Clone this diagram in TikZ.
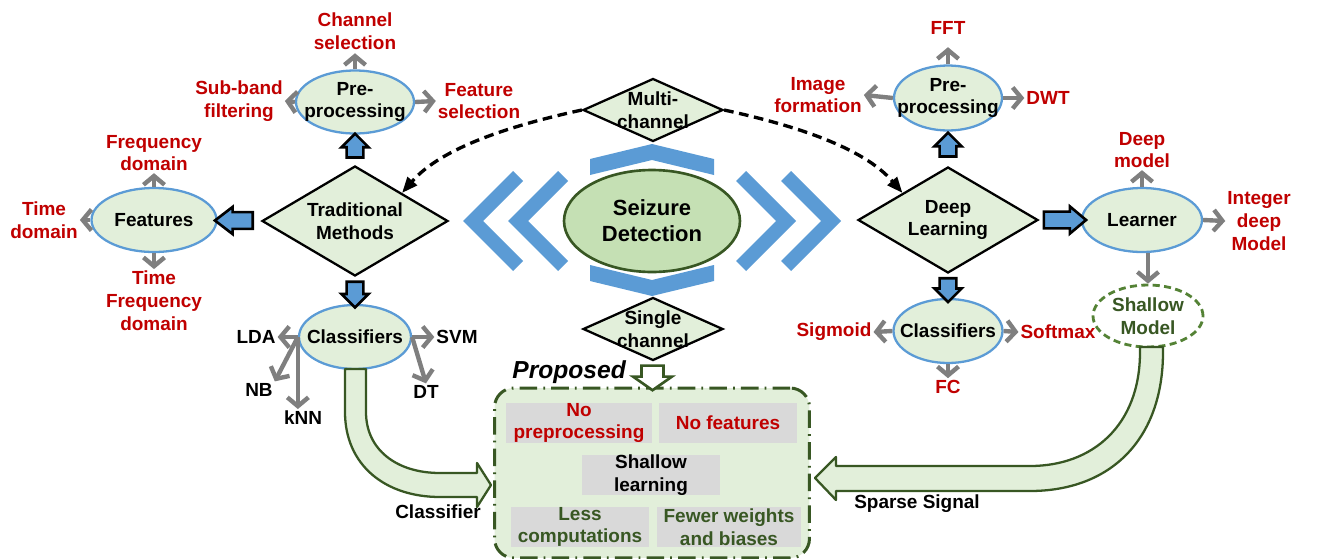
\documentclass[tikz,border=0pt]{standalone}
\usepackage{fontspec}
\setmainfont{Liberation Sans}
\usetikzlibrary{shapes.geometric,shapes.arrows,arrows.meta,calc}

\definecolor{blueshade}{HTML}{5B9BD5}
\definecolor{palegreen}{HTML}{E2EFDA}
\definecolor{midgreen}{HTML}{C5E0B4}
\definecolor{darkgreen}{HTML}{385723}
\definecolor{dashgreen}{HTML}{548235}
\definecolor{darkred}{HTML}{C00000}
\definecolor{arrowgray}{HTML}{7F7F7F}
\definecolor{boxgray}{HTML}{D9D9D9}

\tikzset{
  txt/.style={font=\bfseries\fontsize{10.8}{13}\selectfont, align=center, inner sep=1pt},
  redtxt/.style={txt, text=darkred},
  oval/.style={ellipse, draw=blueshade, line width=1.3pt, fill=palegreen, inner sep=0pt, label={[txt]center:#1}},
  decision/.style={diamond, draw=black, line width=1.3pt, fill=palegreen, inner sep=0pt, label={[txt]center:#1}},
  grayarrow/.style={draw=arrowgray, line width=2.5pt, -{Straight Barb[length=5pt,width=12pt]}},
  blockarrow/.style={single arrow, draw=black, fill=blueshade, line width=1.5pt, inner xsep=0pt, inner ysep=4pt,
    minimum width=14pt, single arrow head extend=3pt},
  hollowarrow/.style={single arrow, draw=darkgreen, fill=white, line width=1.5pt, inner xsep=0pt, inner ysep=5.5pt,
    minimum width=21pt, single arrow head extend=4.8pt, single arrow tip angle=110},
  graybox/.style={rectangle, fill=boxgray, txt, inner sep=0pt, minimum height=0.8cm},
  dashedarrow/.style={draw=black, line width=1.9pt, dash pattern=on 5.5pt off 3.2pt, -{Triangle[length=9pt,width=7pt]}},
  bigarrow/.style={draw=darkgreen, line width=1.3pt, fill=palegreen, line join=round}
}

\begin{document}
\begin{tikzpicture}[x=0.02cm,y=-0.02cm]
\useasboundingbox (0,0) rectangle (1322,558);

% chevrons round the centre
\fill[blueshade] (463,221) -- (513,171) -- (523,181) -- (483,221) -- (523,261) -- (513,271) -- cycle;
\fill[blueshade] (508,221) -- (558,171) -- (568,181) -- (528,221) -- (568,261) -- (558,271) -- cycle;
\fill[blueshade] (841,221) -- (791,171) -- (781,181) -- (821,221) -- (781,261) -- (791,271) -- cycle;
\fill[blueshade] (796,221) -- (746,171) -- (736,181) -- (776,221) -- (736,261) -- (746,271) -- cycle;
\fill[blueshade] (590,159) -- (652,144) -- (714,159) -- (714,175) -- (652,160) -- (590,175) -- cycle;
\fill[blueshade] (590,265) -- (652,280) -- (714,265) -- (714,281) -- (652,296) -- (590,281) -- cycle;

\node[ellipse, draw=darkgreen, line width=1.5pt, fill=midgreen, minimum width=3.52cm, minimum height=2.04cm,
  font=\bfseries\fontsize{12.5}{14.7}\selectfont, align=center] (sd) at (652,221) {Seizure\\Detection};

% diamonds
\node[decision={Multi-\\channel}, minimum width=2.8cm, minimum height=1.26cm] (mc) at (653,110) {};
\node[decision={Single\\channel}, minimum width=2.8cm, minimum height=1.26cm] (sc) at (653,329) {};
\node[decision={Traditional\\Methods}, minimum width=3.72cm, minimum height=2.2cm] (tm) at (355,221) {};
\node[decision={Deep\\Learning}, minimum width=3.6cm, minimum height=2.12cm] (dl) at (948,220) {};

\draw[dashedarrow] (mc.west) .. controls (513,125) and (442,147) .. (tm.north east);
\draw[dashedarrow] (mc.east) .. controls (793,125) and (863,147) .. (dl.north west);

% traditional side
\node[oval={Pre-\\processing}, minimum width=2.36cm, minimum height=1.26cm] (pre1) at (355,102) {};
\node[oval={Features}, minimum width=2.5cm, minimum height=1.28cm] (feat) at (154,220) {};
\node[oval={Classifiers}, minimum width=2.24cm, minimum height=1.28cm] (cls1) at (355,337) {};

\node[blockarrow, minimum height=13.6pt, rotate=90] at ($(tm.north)!.5!(pre1.south)$) {};
\node[blockarrow, minimum height=21.5pt, rotate=180, single arrow tip angle=75] at ($(tm.west)!.5!(feat.east)$) {};
\node[blockarrow, minimum height=14.7pt, rotate=270] at ($(tm.south)!.5!(cls1.north)$) {};

\node[redtxt] (chsel) at (355,31) {Channel\\selection};
\node[redtxt] (subband) at (239,101) {Sub-band\\filtering};
\node[redtxt] (featsel) at (479,101) {Feature\\selection};
\draw[grayarrow, shorten >=1pt] (pre1.north) -- (chsel.south);
\draw[grayarrow] (pre1.west) -- (subband.east);
\draw[grayarrow] (pre1.east) -- (featsel.west);

\node[redtxt] (freqdom) at (154,153) {Frequency\\domain};
\node[redtxt] (timedom) at (44,220) {Time\\domain};
\node[redtxt] (tfdom) at (154,301) {Time\\Frequency\\domain};
\draw[grayarrow] (feat.north) -- (freqdom.south);
\draw[grayarrow] (feat.west) -- (timedom.east);
\draw[grayarrow] (feat.south) -- (tfdom.north);

\node[txt] (lda) at (256,337) {LDA};
\node[txt] (svm) at (457,337) {SVM};
\node[txt] (nb) at (259,390) {NB};
\node[txt] (knn) at (303,418) {kNN};
\node[txt] (dt) at (426,392) {DT};
\draw[grayarrow] (cls1.west) -- (lda.east);
\draw[grayarrow] (cls1.east) -- (svm.west);
\draw[grayarrow] (cls1.west) -- (nb.north east);
\draw[grayarrow] (cls1.west) -- (cls1.west |- knn.north);
\draw[grayarrow] (cls1.east) -- (dt.north);

% deep learning side
\node[oval={Pre-\\processing}, minimum width=2.16cm, minimum height=1.3cm] (pre2) at (948,98) {};
\node[oval={Learner}, minimum width=2.4cm, minimum height=1.28cm] (learner) at (1142,220) {};
\node[oval={Classifiers}, minimum width=2.18cm, minimum height=1.28cm] (cls2) at (948,331) {};
\node[ellipse, draw=dashgreen, line width=1.6pt, dash pattern=on 4pt off 2.5pt, fill=white, inner sep=0pt,
  minimum width=2.2cm, minimum height=1.24cm, label={[txt, text=darkgreen]center:Shallow\\Model}] (shallow) at (1148,316) {};

\node[blockarrow, minimum height=13.6pt, rotate=90] at ($(dl.north)!.5!(pre2.south)$) {};
\node[blockarrow, minimum height=24pt, single arrow tip angle=80] at ($(dl.east)!.5!(learner.west)$) {};
\node[blockarrow, minimum height=13.6pt, rotate=270] at ($(dl.south)!.5!(cls2.north)$) {};

\node[redtxt] (fft) at (948,28) {FFT};
\node[redtxt] (imgform) at (818,95) {Image\\formation};
\node[redtxt] (dwt) at (1048,98) {DWT};
\draw[grayarrow, shorten >=6pt] (pre2.north) -- (fft.south);
\draw[grayarrow] (pre2.west) -- (imgform.east);
\draw[grayarrow] (pre2.east) -- (dwt.west);

\node[redtxt] (deepmod) at (1142,150) {Deep\\model};
\node[redtxt] (intdeep) at (1259,221) {Integer\\deep\\Model};
\draw[grayarrow] (learner.north) -- (deepmod.south);
\draw[grayarrow] (learner.east) -- (intdeep.west);
\draw[grayarrow] (shallow.north |- learner.south) -- (shallow.north);

\node[redtxt] (sigmoid) at (834,332) {Sigmoid};
\node[redtxt] (softmax) at (1058,332) {Softmax};
\node[redtxt] (fc) at (948,387) {FC};
\draw[grayarrow] (cls2.west) -- (sigmoid.east);
\draw[grayarrow] (cls2.east) -- (softmax.west);
\draw[grayarrow] (cls2.south) -- (fc.north);

% proposed block
\node[rectangle, rounded corners=11pt, draw=darkgreen, line width=1.7pt, fill=palegreen,
  dash pattern=on 10pt off 3.5pt on 1pt off 3.5pt, minimum width=6.3cm, minimum height=3.4cm] (prop) at (652,473) {};
\node[font=\bfseries\itshape\fontsize{14}{16}\selectfont, anchor=west, inner sep=0pt] (proplbl) at (512,372) {Proposed};
\node[hollowarrow, minimum height=14pt, rotate=270] at ($(sc.south)!.5!(prop.north)$) {};

\node[graybox, text=darkred, minimum width=2.92cm] (noprep) at (579,423) {No\\preprocessing};
\node[graybox, text=darkred, minimum width=2.78cm] (nofeat) at (728,423) {No features};
\node[graybox, minimum width=2.78cm] (shlearn) at (651,475) {Shallow\\learning};
\node[graybox, text=darkgreen, minimum width=2.78cm] (lesscomp) at (580,527) {Less\\computations};
\node[graybox, text=darkgreen, minimum width=2.9cm] (fewer) at (729,527) {Fewer weights\\and biases};

% curved feeds into the proposed block
\draw[bigarrow] (345,369) -- (345,412) .. controls (345,465) and (385,497) .. (440,497) -- (477,497) -- (477,507)
  -- (491,485) -- (477,463) -- (477,473) -- (440,473) .. controls (397,473) and (366,450) .. (366,412) -- (366,369) -- cycle;
\draw[bigarrow] (1163,347) -- (1163,352) .. controls (1163,440) and (1110,491) .. (1030,491) -- (836,491) -- (836,500)
  -- (815,478) -- (836,457) -- (836,466) -- (1030,466) .. controls (1093,466) and (1140,425) .. (1140,352) -- (1140,347) -- cycle;

\node[txt] (clslbl) at (438,512) {Classifier};
\node[txt] (sparselbl) at (917,504) {Sparse Signal};

\end{tikzpicture}
\end{document}
